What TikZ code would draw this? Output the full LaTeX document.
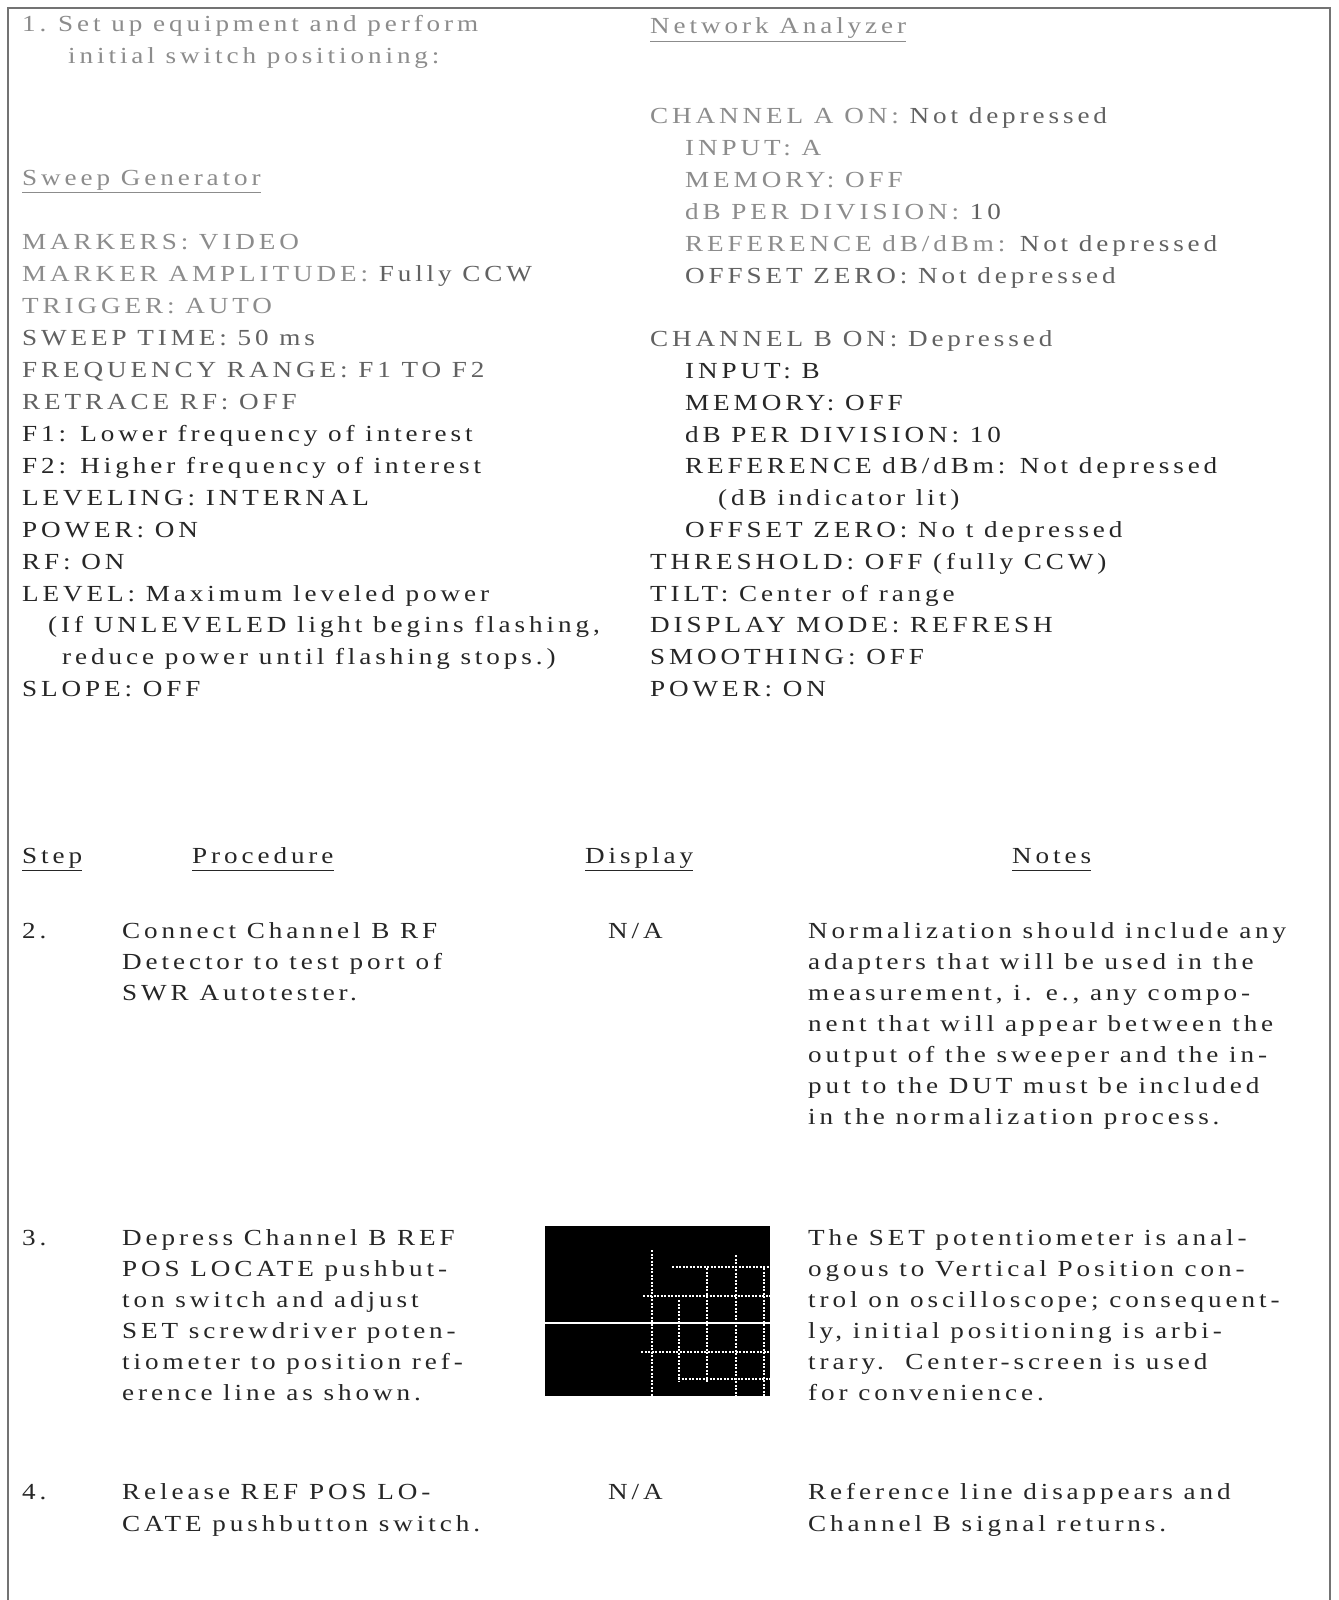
\documentclass[tikz,border=0pt]{standalone}
\usepackage{fontspec}
\setmainfont{Liberation Serif}[LetterSpace=17,FakeStretch=1.18]
\definecolor{ink}{gray}{0.15}
\definecolor{mid}{gray}{0.38}
\definecolor{faded}{gray}{0.55}
\begin{document}
\begin{tikzpicture}[x=1pt,y=-1pt,
  txt/.style={anchor=base west, inner sep=0pt, font=\fontsize{23}{28}\selectfont, text=ink},
  fd/.style={txt, text=faded},
  md/.style={txt, text=mid},
  uline/.style={line width=1pt, draw=ink},
  frame/.style={draw=black!55, line width=1.2pt},
  grat/.style={draw=white, line width=1.3pt, dash pattern=on 2pt off 1.5pt},
  refline/.style={draw=white, line width=2.2pt}]
\useasboundingbox (0,0) rectangle (1338,1600);
% frame
\draw[frame] (8,1600) -- (8,8) -- (1330,8) -- (1330,1600);
% ---------- top: item 1 ----------
\node[fd] (n1) at (22,32) {1.};
\node[fd] (t1a) at (58,32) {Set up equipment and perform};
\node[fd] (t1b) at (68,64) {initial switch positioning:};
% Sweep generator
\node[fd] (sg) at (22,185) {Sweep Generator};
\draw[uline, draw=faded] ([yshift=-7pt]sg.base west) -- ([yshift=-7pt]sg.base east);
\node[fd] (s1) at (22,249) {MARKERS: VIDEO};
\node[fd] (s2) at (22,281) {MARKER AMPLITUDE: \textcolor{mid}{Fully CCW}};
\node[fd] (s3) at (22,313) {TRIGGER: AUTO};
\node[md] (s4) at (22,345) {SWEEP TIME: 50 ms};
\node[md] (s5) at (22,377) {FREQUENCY RANGE: F1 TO F2};
\node[md] (s6) at (22,409) {RETRACE RF: OFF};
\node[txt] (s7) at (22,441) {F1: Lower frequency of interest};
\node[txt] (s8) at (22,473) {F2: Higher frequency of interest};
\node[txt] (s9) at (22,505) {LEVELING: INTERNAL};
\node[txt] (s10) at (22,537) {POWER: ON};
\node[txt] (s11) at (22,569) {RF: ON};
\node[txt] (s12) at (22,601) {LEVEL: Maximum leveled power};
\node[txt] (s13) at (48,632.8) {(If UNLEVELED light begins flashing,};
\node[txt] (s14) at (62,664.6) {reduce power until flashing stops.)};
\node[txt] (s15) at (22,696.4) {SLOPE: OFF};
% Network analyzer
\node[fd] (na) at (650,34) {Network Analyzer};
\draw[uline, draw=faded] ([yshift=-8pt]na.base west) -- ([yshift=-8pt]na.base east);
\node[fd] (a0) at (650,124) {CHANNEL A ON: \textcolor{mid}{Not depressed}};
\node[fd] (a1) at (685,155.8) {INPUT: A};
\node[fd] (a2) at (685,187.6) {MEMORY: OFF};
\node[fd] (a3) at (685,219.4) {dB PER DIVISION: \textcolor{mid}{10}};
\node[fd] (a4) at (685,251.2) {REFERENCE dB/dBm: \textcolor{mid}{Not depressed}};
\node[md] (a5) at (685,283) {OFFSET ZERO: Not depressed};
\node[md] (b0) at (650,346.6) {CHANNEL B ON: Depressed};
\node[txt] (b1) at (685,378.4) {INPUT: B};
\node[txt] (b2) at (685,410.2) {MEMORY: OFF};
\node[txt] (b3) at (685,442) {dB PER DIVISION: 10};
\node[txt] (b4) at (685,473.8) {REFERENCE dB/dBm: Not depressed};
\node[txt] (b5) at (718,505.6) {(dB indicator lit)};
\node[txt] (b6) at (685,537.4) {OFFSET ZERO: No t depressed};
\node[txt] (b7) at (650,569.2) {THRESHOLD: OFF (fully CCW)};
\node[txt] (b8) at (650,601) {TILT: Center of range};
\node[txt] (b9) at (650,632.8) {DISPLAY MODE: REFRESH};
\node[txt] (b10) at (650,664.6) {SMOOTHING: OFF};
\node[txt] (b11) at (650,696.4) {POWER: ON};
% ---------- table headers ----------
\node[txt] (hstep) at (22,863) {Step};
\node[txt] (hproc) at (192,863) {Procedure};
\node[txt] (hdisp) at (585,863) {Display};
\node[txt] (hnote) at (1012,863) {Notes};
\foreach \h in {hstep,hproc,hdisp,hnote}
  \draw[uline] ([yshift=-7pt]\h.base west) -- ([yshift=-7pt]\h.base east);
% ---------- step 2 ----------
\node[txt] (st2) at (22,938) {2.};
\node[txt] (p2a) at (122,938) {Connect Channel B RF};
\node[txt] (p2b) at (122,969) {Detector to test port of};
\node[txt] (p2c) at (122,1000) {SWR Autotester.};
\node[txt] (d2) at (608,938) {N/A};
\node[txt] (q2a) at (808,938) {Normalization should include any};
\node[txt] (q2b) at (808,969) {adapters that will be used in the};
\node[txt] (q2c) at (808,1000) {measurement, i. e., any compo-};
\node[txt] (q2d) at (808,1031) {nent that will appear between the};
\node[txt] (q2e) at (808,1062) {output of the sweeper and the in-};
\node[txt] (q2f) at (808,1093) {put to the DUT must be included};
\node[txt] (q2g) at (808,1124) {in the normalization process.};
% ---------- step 3 ----------
\node[txt] (st3) at (22,1245) {3.};
\node[txt] (p3a) at (122,1245) {Depress Channel B REF};
\node[txt] (p3b) at (122,1276) {POS LOCATE pushbut-};
\node[txt] (p3c) at (122,1307) {ton switch and adjust};
\node[txt] (p3d) at (122,1338) {SET screwdriver poten-};
\node[txt] (p3e) at (122,1369) {tiometer to position ref-};
\node[txt] (p3f) at (122,1400) {erence line as shown.};
\node[txt] (q3a) at (808,1245) {The SET potentiometer is anal-};
\node[txt] (q3b) at (808,1276) {ogous to Vertical Position con-};
\node[txt] (q3c) at (808,1307) {trol on oscilloscope; consequent-};
\node[txt] (q3d) at (808,1338) {ly, initial positioning is arbi-};
\node[txt] (q3e) at (808,1369) {trary.\ \ Center-screen is used};
\node[txt] (q3f) at (808,1400) {for convenience.};
% display screen
\fill[black] (545,1226) rectangle (770,1396);
\foreach \x/\ya/\yb in {652/1250/1396, 679/1300/1382, 707/1268/1382, 736/1255/1396, 764/1268/1396}
  \draw[grat] (\x,\ya) -- (\x,\yb);
\foreach \y/\xa in {1267/672, 1296/643, 1352/641, 1379/678}
  \draw[grat] (\xa,\y) -- (770,\y);
\draw[refline] (545,1323) -- (770,1323);
% ---------- step 4 ----------
\node[txt] (st4) at (22,1499) {4.};
\node[txt] (p4a) at (122,1499) {Release REF POS LO-};
\node[txt] (p4b) at (122,1531) {CATE pushbutton switch.};
\node[txt] (d4) at (608,1499) {N/A};
\node[txt] (q4a) at (808,1499) {Reference line disappears and};
\node[txt] (q4b) at (808,1531) {Channel B signal returns.};
\end{tikzpicture}
\end{document}
